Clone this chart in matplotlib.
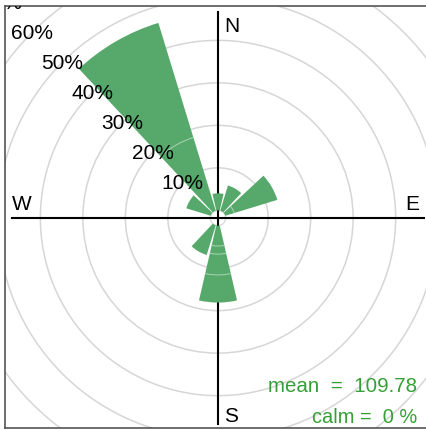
import numpy as np
import matplotlib
matplotlib.use("Agg")
import matplotlib.pyplot as plt
from matplotlib.patches import Wedge, Circle, Arc

plt.rcParams['font.family'] = ['Liberation Sans', 'DejaVu Sans']

# wind direction bins (degrees, compass) and frequency (%)
directions = [0, 30, 60, 90, 120, 150, 180, 210, 240, 270, 300, 330]
freq = [4.0, 6.2, 12.8, 0, 0, 0, 18.1, 7.3, 0, 0, 6.0, 46.2]
# faint breaks between stacked intervals, in % from the inner edge
breaks = [[], [], [2.2], [], [], [], [4.8, 6.7, 11.6], [], [], [], [], [18.0]]
grid_levels = [10, 20, 30, 40, 50, 60, 70]
mean_val = 109.78
calm_val = 0

offset = 1.8          # hole in the middle
bar_width = 26        # degrees
bar_col = '#57a96b'
txt_col = '#35a035'

fig = plt.figure(figsize=(4.27, 4.31), dpi=100)
ax = fig.add_axes([5 / 427, 2 / 431, 427 / 427, 422 / 431])
ax.set_xlim(-50.12, 50.35)
ax.set_ylim(-49.41, 49.88)

# grid circles
ax.add_patch(Circle((0, 0), offset, fill=False, ec='#dcdcdc', lw=1.0, zorder=1))
for lev in grid_levels + [80]:
    ax.add_patch(Circle((0, 0), offset + lev, fill=False, ec='#d6d6d6', lw=1.1, zorder=1))

# axis cross
L = offset + max(freq) + 0.5
ax.plot([0, 0], [-L, L], color='black', lw=1.5, zorder=2)
ax.plot([-L, L], [0, 0], color='black', lw=1.5, zorder=2)

# bars
for d, f, br in zip(directions, freq, breaks):
    if f <= 0:
        continue
    t1 = 90 - d - bar_width / 2
    t2 = 90 - d + bar_width / 2
    ax.add_patch(Wedge((0, 0), offset + f, t1, t2, width=f, fc=bar_col, ec='none', zorder=3))
    for b in br:
        ax.add_patch(Arc((0, 0), 2 * (offset + b), 2 * (offset + b), theta1=t1, theta2=t2,
                         color='#a9d5b3', lw=0.7, zorder=4))

# percent labels along 315 deg
ang = np.deg2rad(90 - 315)
for lev in grid_levels:
    r = offset + lev
    ax.text(r * np.cos(ang), r * np.sin(ang), f'{lev}%', fontsize=15,
            ha='center', va='center', zorder=5, clip_on=True)

# compass labels
ax.text(3.3, 45.4, 'N', fontsize=15, ha='center', va='center')
ax.text(3.1, -46.4, 'S', fontsize=15, ha='center', va='center')
ax.text(45.6, 3.3, 'E', fontsize=15, ha='center', va='center')
ax.text(-46.1, 3.3, 'W', fontsize=15, ha='center', va='center')

ax.text(46.8, -39.4, f'mean  =  {mean_val:.2f}', fontsize=14.8, color=txt_col,
        ha='right', va='center', zorder=6)
ax.text(46.8, -46.7, f'calm =  {calm_val} %', fontsize=14.4, color=txt_col,
        ha='right', va='center', zorder=6)

ax.set_xticks([])
ax.set_yticks([])
for s in ax.spines.values():
    s.set_color('#555555')
    s.set_linewidth(1.2)

fig.savefig('out.png', dpi=100)
